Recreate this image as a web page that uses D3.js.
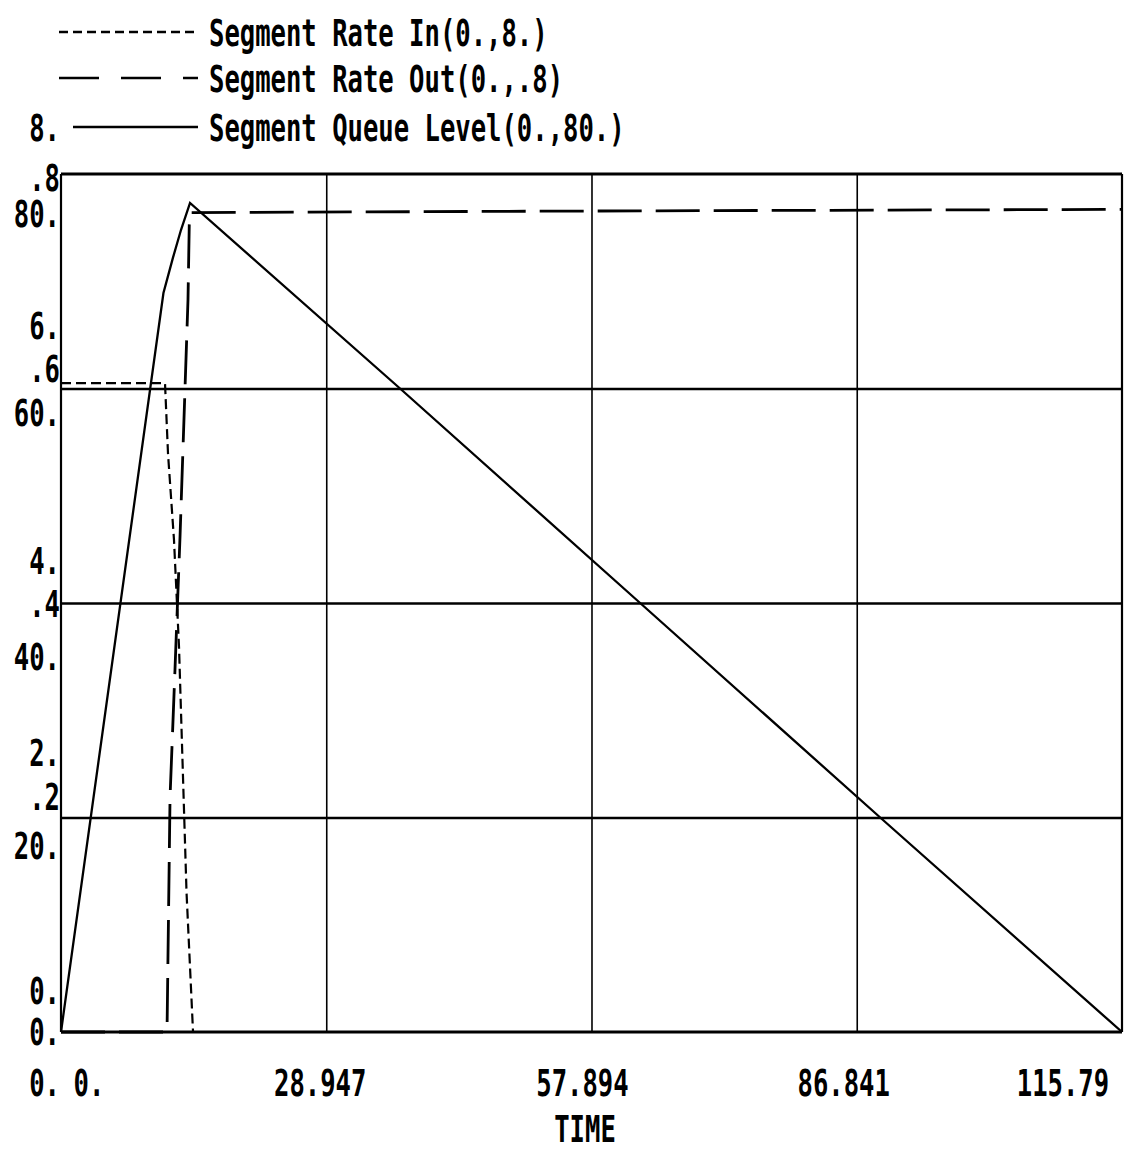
<!DOCTYPE html>
<html><head><meta charset="utf-8">
<script src="https://cdn.jsdelivr.net/npm/d3@7"></script>
<style>
body{margin:0;background:#fff}
text{font-family:"DejaVu Sans Mono","Liberation Mono",monospace;font-weight:bold;fill:#000}
</style>
</head><body>
<svg id="chart" width="1124" height="1149"></svg>
<script>
// ---------------- data ----------------
const seriesNames = ["Segment Rate In(0.,8.)", "Segment Rate Out(0.,.8)", "Segment Queue Level(0.,80.)"];

const timeTicks = [0, 28.947, 57.894, 86.841, 115.79];
const timeTickLabels = ["0.", "28.947", "57.894", "86.841", "115.79"];
const xAxisTitle = "TIME";

const rateInTicks = [8, 6, 4, 2, 0];
const rateInTickLabels = ["8.", "6.", "4.", "2.", "0."];
const rateOutTicks = [0.8, 0.6, 0.4, 0.2, 0];
const rateOutTickLabels = [".8", ".6", ".4", ".2", "0."];
const queueTicks = [80, 60, 40, 20, 0];
const queueTickLabels = ["80.", "60.", "40.", "20.", "0."];

// Segment Rate In (scale 0..8)
const rateInTime  = [0,    11.35, 11.68, 12.33, 12.88, 13.31, 13.70, 14.41, 115.79];
const rateInValue = [6.05, 6.05,  5.39,  4.59,  3.59,  2.39,  1.30,  0,     0];

// Segment Rate Out (scale 0..0.8)
const rateOutTime  = [0, 11.57, 11.90, 12.44, 12.99, 13.53, 13.86, 14.02, 57.9,  115.79];
const rateOutValue = [0, 0,     0.219, 0.338, 0.462, 0.599, 0.683, 0.764, 0.7655, 0.767];

// Segment Queue Level (scale 0..80)
const queueTime  = [0, 11.18, 12.22, 13.10, 14.08, 37.0, 63.2, 89.4, 115.79];
const queueValue = [0, 68.9,  72.2,  74.8,  77.3,  60.0, 40.0, 20.0, 0];

// ---------------- layout ----------------
const L = 61, R = 1122, T = 174, B = 1032;
const CW = 15.4;               // character cell width
const FS = CW / 0.602;         // font size giving that advance
const SY = 38 / FS;            // vertical stretch (tall narrow glyphs)
const CAP = 0.729 * 38;        // resulting cap height

const svg = d3.select("#chart");

const x = d3.scaleLinear().domain([0, 115.79]).range([L, R]);
const yIn = d3.scaleLinear().domain([0, 8]).range([B, T]);
const yOut = d3.scaleLinear().domain([0, 0.8]).range([B, T]);
const yQ = d3.scaleLinear().domain([0, 80]).range([B, T]);

// gridlines via axes
const gx = svg.append("g").attr("transform", `translate(0,${B})`)
  .call(d3.axisBottom(x).tickValues(timeTicks.slice(1, -1)).tickSize(-(B - T)).tickFormat(""));
gx.select(".domain").remove();
gx.selectAll("line").attr("stroke", "#000").attr("stroke-width", 1.6);

const gy = svg.append("g").attr("transform", `translate(${L},0)`)
  .call(d3.axisLeft(yOut).tickValues(rateOutTicks.slice(1, -1)).tickSize(-(R - L)).tickFormat(""));
gy.select(".domain").remove();
gy.selectAll("line").attr("stroke", "#000").attr("stroke-width", 2.6);

// series
svg.append("clipPath").attr("id", "plotclip")
  .append("rect").attr("x", L).attr("y", T - 2).attr("width", R - L).attr("height", B - T + 4);

function drawLine(times, vals, yScale, dash, w) {
  const pts = times.map((t, i) => [t, vals[i]]);
  svg.append("path")
    .attr("d", d3.line().x(d => x(d[0])).y(d => yScale(d[1]))(pts))
    .attr("fill", "none").attr("stroke", "#000").attr("stroke-width", w)
    .attr("stroke-dasharray", dash).attr("clip-path", "url(#plotclip)");
}
drawLine(rateInTime, rateInValue, yIn, "10,5", 2.2);
drawLine(rateOutTime, rateOutValue, yOut, "44,14", 2.8);
drawLine(queueTime, queueValue, yQ, null, 2.3);

// border
svg.append("line").attr("x1", L).attr("x2", R).attr("y1", T).attr("y2", T).attr("stroke", "#000").attr("stroke-width", 3);
svg.append("line").attr("x1", L).attr("x2", R).attr("y1", B).attr("y2", B).attr("stroke", "#000").attr("stroke-width", 3);
svg.append("line").attr("x1", L).attr("x2", L).attr("y1", T).attr("y2", B).attr("stroke", "#000").attr("stroke-width", 2.2);
svg.append("line").attr("x1", R).attr("x2", R).attr("y1", T).attr("y2", B).attr("stroke", "#000").attr("stroke-width", 2.2);

// text helper: monospace cells of width CW, glyphs stretched vertically
function txt(str, xStart, yCenter) {
  svg.append("text")
    .attr("transform", `translate(${xStart},${yCenter + CAP / 2}) scale(1,${SY})`)
    .attr("font-size", FS)
    .text(str);
}

// legend
const legendY = [32, 78, 127];
const legendDash = ["9,5", "40,22", null];
const legendX1 = [59, 59, 73];
seriesNames.forEach((name, i) => {
  svg.append("line").attr("x1", legendX1[i]).attr("x2", 198)
    .attr("y1", legendY[i]).attr("y2", legendY[i])
    .attr("stroke", "#000").attr("stroke-width", 2.4)
    .attr("stroke-dasharray", legendDash[i]);
  txt(name, 209, legendY[i]);
});

// y tick labels (stacked, right aligned)
const labelRight = 60;
const inOffsets = [-47, -63.5, -43, -65.5, -42];
const outOffsets = [3, -20.5, 0, -21.5, -1];
const qOffsets = [39, 23.5, 53, 27.5, 50];
rateInTicks.forEach((v, i) => {
  const s = rateInTickLabels[i];
  txt(s, labelRight - s.length * CW, yIn(v) + inOffsets[i]);
});
rateOutTicks.forEach((v, i) => {
  const s = rateOutTickLabels[i];
  txt(s, labelRight - s.length * CW, yOut(v) + outOffsets[i]);
});
queueTicks.forEach((v, i) => {
  const s = queueTickLabels[i];
  txt(s, labelRight - s.length * CW, yQ(v) + qOffsets[i]);
});

// x tick labels
const xLabelOffsets = [28, -6, -9, -13, -59];
timeTicks.forEach((t, i) => {
  const s = timeTickLabels[i];
  txt(s, x(t) + xLabelOffsets[i] - s.length * CW / 2, 1082);
});
txt(xAxisTitle, 585 - xAxisTitle.length * CW / 2, 1128);
</script>
</body></html>
